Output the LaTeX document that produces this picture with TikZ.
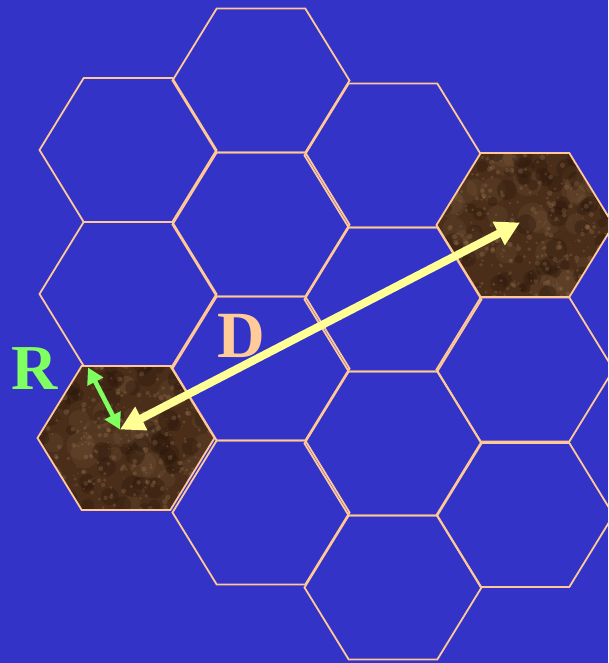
\documentclass[tikz,border=0pt]{standalone}
\usepackage{fontspec}
\setmainfont{Liberation Serif}
\usetikzlibrary{arrows.meta}
\definecolor{bg}{RGB}{51,51,200}
\definecolor{hexline}{RGB}{255,200,150}
\definecolor{dcol}{RGB}{255,204,153}
\definecolor{rcol}{RGB}{128,255,96}
\definecolor{ycol}{RGB}{255,255,150}
\definecolor{brownbase}{RGB}{74,46,26}
\definecolor{brownlight}{RGB}{160,125,90}
\definecolor{browndark}{RGB}{40,22,10}
\tikzset{
  hexedge/.style={draw=hexline, line width=1.8pt, line join=miter},
  dlabel/.style={text=dcol, font=\fontsize{66}{66}\selectfont\bfseries, inner sep=0pt},
  rlabel/.style={text=rcol, font=\fontsize{64}{64}\selectfont\bfseries, inner sep=0pt},
  darrow/.style={draw=ycol, line width=8pt, {Triangle[length=24pt,width=25pt]}-{Triangle[length=24pt,width=25pt]}},
  rarrow/.style={draw=rcol, line width=4.6pt, {Triangle[length=16pt,width=17pt]}-{Triangle[length=16pt,width=17pt]}}
}
\newcommand{\hexcell}[2]{%
  \draw[hexedge] (#1-88.5,#2) -- (#1-44.3,#2-72) -- (#1+44.3,#2-72) -- (#1+88.5,#2) -- (#1+44.3,#2+72) -- (#1-44.3,#2+72) -- cycle;}
\newcommand{\texhex}[2]{%
  \begin{scope}
    \clip (#1-88.5,#2) -- (#1-44.3,#2-72) -- (#1+44.3,#2-72) -- (#1+88.5,#2) -- (#1+44.3,#2+72) -- (#1-44.3,#2+72) -- cycle;
    \fill[brownbase] (#1-92,#2-76) rectangle (#1+92,#2+76);
    \foreach \k in {1,...,40}{%
      \pgfmathsetmacro{\px}{#1+90*rand}%
      \pgfmathsetmacro{\py}{#2+74*rand}%
      \pgfmathsetmacro{\pr}{6+9*rnd}%
      \fill[brownlight,opacity=0.12] (\px,\py) circle[radius=\pr pt];
    }
    \foreach \k in {1,...,70}{%
      \pgfmathsetmacro{\px}{#1+90*rand}%
      \pgfmathsetmacro{\py}{#2+74*rand}%
      \pgfmathsetmacro{\pr}{4+7*rnd}%
      \fill[browndark,opacity=0.35] (\px,\py) circle[radius=\pr pt];
    }
    \foreach \k in {1,...,320}{%
      \pgfmathsetmacro{\px}{#1+90*rand}%
      \pgfmathsetmacro{\py}{#2+74*rand}%
      \pgfmathsetmacro{\pr}{0.6+2.2*rnd}%
      \fill[brownlight,opacity=0.28] (\px,\py) circle[radius=\pr pt];
    }
  \end{scope}
  \hexcell{#1}{#2}}
\begin{document}
\begin{tikzpicture}[x=1pt,y=-1pt]
  \useasboundingbox (0,0) rectangle (608,663);
  \fill[bg] (0,0) rectangle (608,663);
  \clip (0,0) rectangle (608,663);
  \pgfmathsetseed{7}
  % column 1
  \hexcell{128}{150}
  \hexcell{128}{294}
  % column 2
  \hexcell{261}{80.5}
  \hexcell{261}{224.5}
  \hexcell{261}{368.5}
  \hexcell{261}{512.5}
  % column 3
  \hexcell{393}{155.5}
  \hexcell{393}{299.5}
  \hexcell{393}{443.5}
  \hexcell{393}{587.5}
  % column 4
  \hexcell{525}{369.5}
  \hexcell{525}{515}
  % textured cells
  \texhex{126}{438}
  \texhex{525}{225}
  % anchor points
  \coordinate (Dstart) at (120,429.5);
  \coordinate (Dend) at (520,222.5);
  \coordinate (Rtop) at (88,367.5);
  % arrows
  \draw[darrow] (Dstart) -- (Dend);
  \draw[rarrow] (Rtop) -- (Dstart);
  % labels
  \node[rlabel] (Rlab) at (34.7,368.5) {R};
  \node[dlabel] (Dlab) at (241.5,335.5) {D};
\end{tikzpicture}
\end{document}
